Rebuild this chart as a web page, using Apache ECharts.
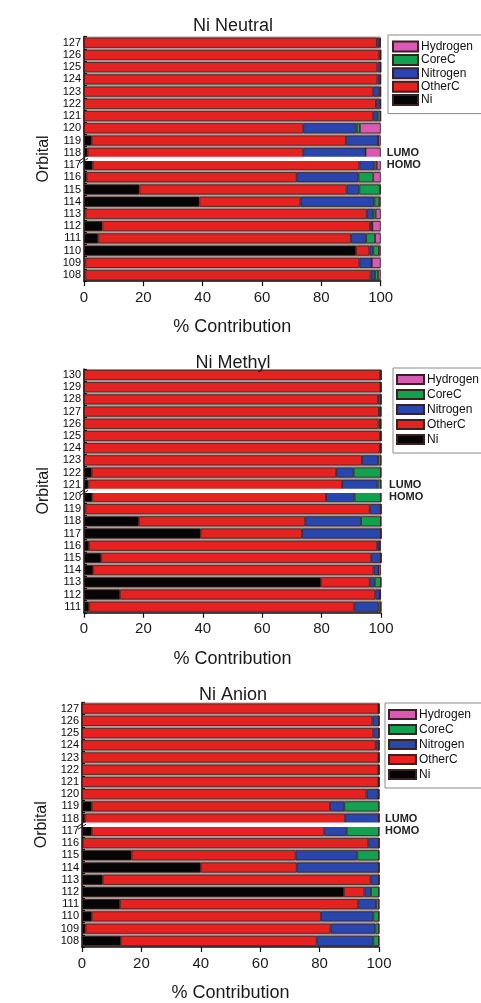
<!DOCTYPE html>
<html>
<head>
<meta charset="utf-8">
<title>Orbital contributions</title>
<script src="https://cdn.jsdelivr.net/npm/echarts@6/dist/echarts.min.js"></script>
<style>
  html, body { margin: 0; padding: 0; background: #ffffff; }
  #chart { width: 481px; height: 1003px; }
</style>
</head>
<body>
<div id="chart"></div>
<script>
// Fragment contributions (%) to each molecular orbital, listed top row first.
const componentNames = ['Ni', 'OtherC', 'Nitrogen', 'CoreC', 'Hydrogen'];
const legendOrder = ['Hydrogen', 'CoreC', 'Nitrogen', 'OtherC', 'Ni'];
const xTicks = [0, 20, 40, 60, 80, 100];

// Ni Neutral
const neutralTitle = 'Ni Neutral';
const neutralOrbitals = ['127','126','125','124','123','122','121','120','119','118','117','116','115','114','113','112','111','110','109','108'];
const neutralNi       = [0, 0, 0, 0, 0, 0, 0, 0, 2.6, 1.2, 2.9, 0.9, 18.7, 38.9, 0.5, 6.2, 4.8, 91.7, 0.5, 0.5];
const neutralOtherC   = [98.7, 99.5, 98.9, 98.9, 97.5, 98.4, 97.5, 73.9, 85.7, 72.7, 89.9, 70.8, 69.8, 34.1, 94.8, 90.2, 85.2, 4.5, 92.3, 96.1];
const neutralNitrogen = [0.8, 0.5, 1.1, 0.8, 2.0, 1.2, 1.5, 18.0, 10.9, 21.0, 5.1, 20.8, 4.3, 24.9, 2.2, 0.8, 5.1, 1.3, 4.2, 1.5];
const neutralCoreC    = [0.3, 0, 0, 0.3, 0.5, 0.4, 1.0, 1.1, 0, 0, 0.8, 5.0, 7.0, 1.6, 0.8, 0, 3.0, 1.9, 0, 1.0];
const neutralHydrogen = [0.2, 0, 0, 0, 0, 0, 0, 7.0, 0.8, 5.1, 1.3, 2.5, 0.2, 0.5, 1.7, 2.8, 1.9, 0.6, 3.0, 0.9];
const neutralLumo = '118', neutralHomo = '117';

// Ni Methyl
const methylTitle = 'Ni Methyl';
const methylOrbitals = ['130','129','128','127','126','125','124','123','122','121','120','119','118','117','116','115','114','113','112','111'];
const methylNi       = [0, 0, 0, 0, 0, 0, 0, 0, 2.6, 1.5, 2.8, 0.5, 18.5, 39.3, 1.7, 5.8, 3.1, 79.8, 12.1, 1.7];
const methylOtherC   = [99.7, 99.8, 99.0, 99.3, 99.2, 99.6, 99.6, 93.6, 82.3, 85.4, 78.7, 95.7, 56.0, 34.1, 97.0, 90.9, 94.4, 16.4, 86.0, 89.3];
const methylNitrogen = [0.3, 0.2, 1.0, 0.5, 0.5, 0.4, 0.4, 5.4, 5.9, 12.0, 9.6, 3.8, 18.8, 26.6, 0.8, 3.3, 1.7, 1.7, 1.5, 8.2];
const methylCoreC    = [0, 0, 0, 0.2, 0.3, 0, 0, 1.0, 9.2, 1.1, 8.9, 0, 6.7, 0, 0, 0, 0, 2.1, 0, 0.8];
const methylHydrogen = [0, 0, 0, 0, 0, 0, 0, 0, 0, 0, 0, 0, 0, 0, 0.5, 0, 0.8, 0, 0.4, 0];
const methylLumo = '121', methylHomo = '120';

// Ni Anion
const anionTitle = 'Ni Anion';
const anionOrbitals = ['127','126','125','124','123','122','121','120','119','118','117','116','115','114','113','112','111','110','109','108'];
const anionNi       = [0, 0, 0, 0, 0, 0, 0, 0, 3.3, 1.0, 3.3, 0.3, 16.7, 40.0, 7.0, 88.2, 12.8, 3.3, 1.2, 13.1];
const anionOtherC   = [99.8, 97.8, 98.1, 98.9, 99.8, 99.8, 99.8, 95.8, 80.2, 87.6, 78.3, 96.1, 55.2, 32.3, 90.2, 6.9, 80.2, 77.2, 82.5, 65.9];
const anionNitrogen = [0.2, 2.2, 1.9, 1.1, 0.2, 0.2, 0.2, 4.0, 4.8, 11.4, 7.5, 3.6, 20.8, 27.7, 2.8, 2.2, 6.0, 17.6, 15.1, 19.1];
const anionCoreC    = [0, 0, 0, 0, 0, 0, 0, 0.2, 11.7, 0, 10.9, 0, 7.3, 0, 0, 2.7, 1.0, 1.9, 1.2, 1.9];
const anionHydrogen = [0, 0, 0, 0, 0, 0, 0, 0, 0, 0, 0, 0, 0, 0, 0, 0, 0, 0, 0, 0];
const anionLumo = '118', anionHomo = '117';

const colors = { Ni: '#050505', OtherC: '#e52220', Nitrogen: '#2846ad', CoreC: '#10a24e', Hydrogen: '#d85ab4' };
const FONT = '"Liberation Sans", Arial, sans-serif';

const panels = [
  { title: neutralTitle, cats: neutralOrbitals, lumo: neutralLumo, homo: neutralHomo,
    values: { Ni: neutralNi, OtherC: neutralOtherC, Nitrogen: neutralNitrogen, CoreC: neutralCoreC, Hydrogen: neutralHydrogen },
    grid: { left: 84, top: 36.6, width: 296.7, height: 244.6 }, titleY: 12, titleX: 228,
    legend: { left: 388, top: 35, itemWidth: 25, itemHeight: 10, itemGap: 0.4, lineHeight: 13, padding: [5, 40, 7, 4] }, rightMargin: 6 },
  { title: methylTitle, cats: methylOrbitals, lumo: methylLumo, homo: methylHomo,
    values: { Ni: methylNi, OtherC: methylOtherC, Nitrogen: methylNitrogen, CoreC: methylCoreC, Hydrogen: methylHydrogen },
    grid: { left: 84, top: 368.9, width: 297, height: 243.9 }, titleY: 349, titleX: 228,
    legend: { left: 393, top: 368, itemWidth: 27, itemHeight: 9, itemGap: 2, lineHeight: 13, padding: [5, 40, 7, 3] }, rightMargin: 8 },
  { title: anionTitle, cats: anionOrbitals, lumo: anionLumo, homo: anionHomo,
    values: { Ni: anionNi, OtherC: anionOtherC, Nitrogen: anionNitrogen, CoreC: anionCoreC, Hydrogen: anionHydrogen },
    grid: { left: 82, top: 702.5, width: 297, height: 246.4 }, titleY: 681, titleX: 228,
    legend: { left: 385, top: 703, itemWidth: 27, itemHeight: 9, itemGap: 2, lineHeight: 13, padding: [5, 40, 7, 3] }, rightMargin: 6 }
];

const option = {
  animation: false,
  backgroundColor: '#ffffff',
  textStyle: { fontFamily: FONT },
  title: [], grid: [], xAxis: [], yAxis: [], legend: [], series: []
};

panels.forEach((p, i) => {
  option.title.push({
    text: p.title, left: p.titleX, top: p.titleY, textAlign: 'center',
    textStyle: { fontSize: 18, fontWeight: 'normal', color: '#1a1a1a', fontFamily: FONT }
  });
  option.grid.push(Object.assign({ show: true, backgroundColor: '#ab9f9b', borderWidth: 0 }, p.grid));
  option.xAxis.push({
    gridIndex: i, type: 'value', min: 0, max: 100, interval: 20,
    name: '% Contribution', nameLocation: 'middle', nameGap: 37,
    nameTextStyle: { fontSize: 18, color: '#1a1a1a', fontFamily: FONT },
    axisLine: { show: true, lineStyle: { color: '#111', width: 1.5 } },
    axisTick: { show: true, inside: false, length: 5, lineStyle: { color: '#111', width: 1.2 } },
    axisLabel: { fontSize: 15, color: '#1a1a1a', margin: 9, fontFamily: FONT,
      formatter: v => xTicks.includes(v) ? String(v) : '' },
    splitLine: { show: false }
  });
  option.yAxis.push({
    gridIndex: i, type: 'category', data: p.cats, inverse: true,
    name: 'Orbital', nameLocation: 'middle', nameGap: 24, nameRotate: 90,
    nameTextStyle: { fontSize: 16, color: '#1a1a1a', fontFamily: FONT },
    axisLine: { show: true, lineStyle: { color: '#111', width: 1.5 } },
    axisTick: { show: true, inside: true, length: 3, lineStyle: { color: '#111', width: 1.2 } },
    axisLabel: { fontSize: 11, color: '#0a0a0a', margin: 3, interval: 0, fontFamily: FONT },
    splitLine: { show: false }
  });
  // right-hand axis carrying the frontier orbital tags
  option.yAxis.push({
    gridIndex: i, type: 'category', data: p.cats, inverse: true, position: 'right',
    axisLine: { show: false }, axisTick: { show: false },
    axisLabel: { fontSize: 11, fontWeight: 'bold', color: '#222', margin: p.rightMargin, fontFamily: FONT,
      interval: 0,
      formatter: v => v === p.lumo ? 'LUMO' : (v === p.homo ? 'HOMO' : '') },
    splitLine: { show: false }
  });
  option.legend.push({
    data: legendOrder, orient: 'vertical', left: p.legend.left, top: p.legend.top,
    itemWidth: p.legend.itemWidth, itemHeight: p.legend.itemHeight, itemGap: p.legend.itemGap,
    padding: p.legend.padding, borderColor: '#8a8a8a', borderWidth: 1, backgroundColor: '#ffffff',
    icon: 'rect', selectedMode: false,
    textStyle: { fontSize: 12, lineHeight: p.legend.lineHeight, color: '#111', fontFamily: FONT, padding: [0, 0, 0, -2] }
  });
  componentNames.forEach(name => {
    option.series.push({
      name: name, type: 'bar', stack: 'panel' + i,
      xAxisIndex: i, yAxisIndex: i * 2,
      data: p.values[name],
      barCategoryGap: '17%',
      itemStyle: { color: colors[name], borderColor: '#3a2020', borderWidth: 0.8 },
      emphasis: { disabled: true }
    });
  });
});

const chart = echarts.init(document.getElementById('chart'), null, { renderer: 'canvas' });
chart.setOption(option);

// Axis break between the HOMO and LUMO rows of each panel
const graphics = [];
panels.forEach((p, i) => {
  const a = chart.convertToPixel({ xAxisIndex: i, yAxisIndex: i * 2 }, [0, p.cats.indexOf(p.lumo)]);
  const b = chart.convertToPixel({ xAxisIndex: i, yAxisIndex: i * 2 }, [100, p.cats.indexOf(p.homo)]);
  const yMid = (a[1] + b[1]) / 2;
  graphics.push({
    type: 'rect', z: 100,
    shape: { x: a[0] + 1, y: yMid - 2.2, width: b[0] - a[0] + 4, height: 4.4 },
    style: { fill: '#ffffff' }
  });
  graphics.push({
    type: 'line', z: 101,
    shape: { x1: a[0] - 4, y1: yMid + 1.5, x2: a[0] + 4, y2: yMid - 3.5 },
    style: { stroke: '#222', lineWidth: 1 }
  });
  graphics.push({
    type: 'line', z: 101,
    shape: { x1: a[0] - 4, y1: yMid + 4.5, x2: a[0] + 4, y2: yMid - 0.5 },
    style: { stroke: '#222', lineWidth: 1 }
  });
});
chart.setOption({ graphic: graphics });
</script>
</body>
</html>
